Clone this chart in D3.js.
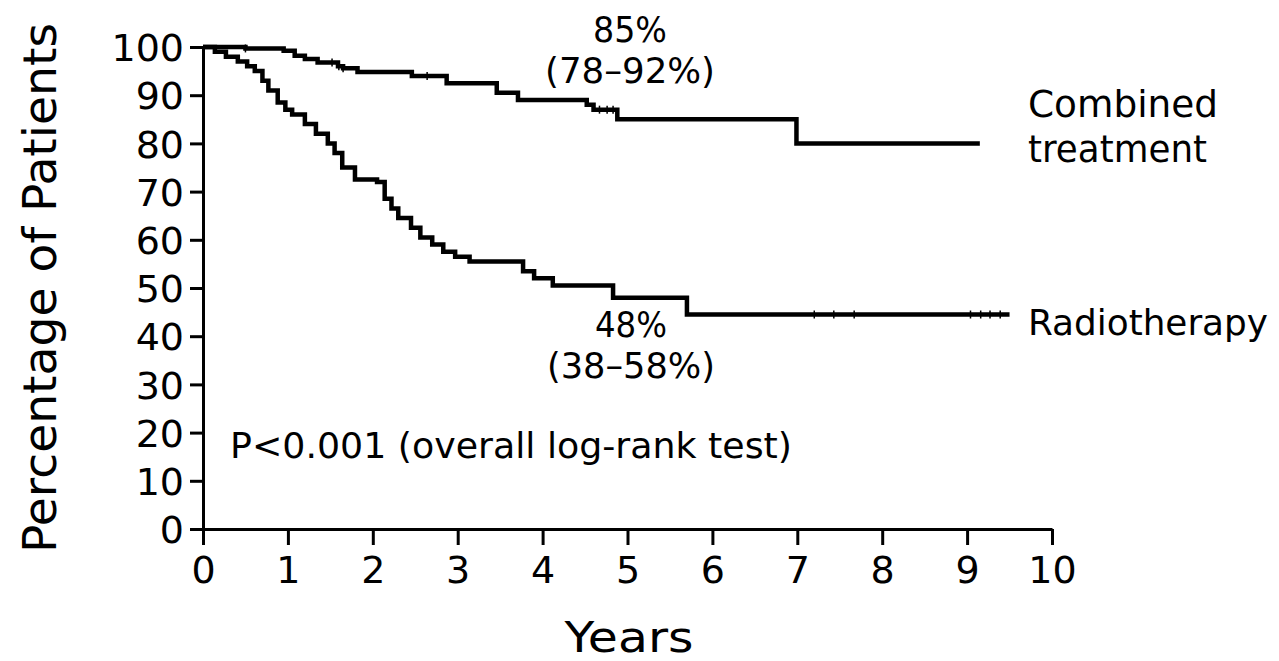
<!DOCTYPE html>
<html>
<head>
<meta charset="utf-8">
<script src="https://cdn.jsdelivr.net/npm/d3@7"></script>
<style>
  html, body { margin: 0; padding: 0; background: #fff; }
  svg { display: block; }
</style>
</head>
<body>
<div id="chart"></div>
<script>
// Kaplan-Meier step values (years, % of patients)
const combinedYears = [0, 0.5, 0.95, 1.08, 1.2, 1.35, 1.59, 1.65, 1.82, 2.46, 2.87, 3.46, 3.71, 4.52, 4.6, 4.88, 6.99];
const combinedPct   = [100, 99.7, 99.2, 98.2, 97.5, 96.8, 96, 95.6, 94.8, 94, 92.5, 90.5, 89, 88, 87, 85, 80];
const combinedEnd = 9.15;
const combinedCensor = [0.5, 1.52, 1.6, 1.65, 2.64, 4.67, 4.76, 4.83];

const radioYears = [0, 0.14, 0.27, 0.41, 0.52, 0.61, 0.7, 0.77, 0.88, 0.97, 1.05, 1.2, 1.33, 1.47, 1.55, 1.64, 1.79, 2.05, 2.14, 2.22, 2.3, 2.45, 2.56, 2.7, 2.83, 2.97, 3.14, 3.77, 3.9, 4.12, 4.83, 5.7];
const radioPct   = [100, 99, 98, 97, 96, 95, 93, 91, 88.5, 87, 86, 84, 82, 80, 78, 75, 72.5, 72, 68.5, 66.5, 64.5, 62.5, 60.5, 59, 57.5, 56.5, 55.5, 53.5, 52, 50.5, 48, 44.5];
const radioEnd = 9.5;
const radioCensor = [7.2, 7.43, 7.67, 9.04, 9.16, 9.27, 9.39];

const yTicks = [0, 10, 20, 30, 40, 50, 60, 70, 80, 90, 100];
const xTicks = [0, 1, 2, 3, 4, 5, 6, 7, 8, 9, 10];

const width = 1279, height = 661;
const font = 'DejaVu Sans, sans-serif';

const x = d3.scaleLinear().domain([0, 10]).range([203, 1052]);
const y = d3.scaleLinear().domain([0, 100]).range([529, 47]);

const svg = d3.select('#chart').append('svg')
  .attr('width', width)
  .attr('height', height)
  .style('font-family', font);

svg.append('rect').attr('width', width).attr('height', height).attr('fill', '#fff');

// axes
const yAxis = svg.append('g')
  .attr('transform', `translate(${x(0)},0)`)
  .call(d3.axisLeft(y).tickValues(yTicks).tickSize(13).tickSizeOuter(0).tickPadding(6));

const xAxis = svg.append('g')
  .attr('transform', `translate(0,${y(0)})`)
  .call(d3.axisBottom(x).tickValues(xTicks).tickSize(16).tickSizeOuter(0));

[yAxis, xAxis].forEach(ax => {
  ax.select('.domain').attr('stroke', '#000').attr('stroke-width', 3);
  ax.selectAll('.tick line').attr('stroke', '#000').attr('stroke-width', 3);
  ax.selectAll('.tick text').attr('fill', '#000').attr('font-size', 38).attr('font-family', font);
});
yAxis.selectAll('.tick text').attr('dy', '0.36em');
xAxis.selectAll('.tick text').attr('y', 54).attr('dy', null);

// survival curves
function stepData(years, pct, end) {
  const pts = years.map((t, i) => [t, pct[i]]);
  pts.push([end, pct[pct.length - 1]]);
  return pts;
}

const line = d3.line()
  .x(d => x(d[0]))
  .y(d => y(d[1]))
  .curve(d3.curveStepAfter);

const series = [
  { years: combinedYears, pct: combinedPct, end: combinedEnd, censor: combinedCensor },
  { years: radioYears, pct: radioPct, end: radioEnd, censor: radioCensor }
];

series.forEach(s => {
  svg.append('path')
    .datum(stepData(s.years, s.pct, s.end))
    .attr('d', line)
    .attr('fill', 'none')
    .attr('stroke', '#000')
    .attr('stroke-width', 4.5)
    .attr('stroke-linejoin', 'miter');

  // small censoring ticks
  const bis = d3.bisector(d => d).right;
  svg.append('g').selectAll('line')
    .data(s.censor)
    .join('line')
    .attr('x1', d => x(d))
    .attr('x2', d => x(d))
    .attr('y1', d => y(s.pct[bis(s.years, d) - 1]) - 4)
    .attr('y2', d => y(s.pct[bis(s.years, d) - 1]) + 4)
    .attr('stroke', '#000')
    .attr('stroke-width', 1.5);
});

// text annotations
function label(txt, px, py, size, anchor, len) {
  const t = svg.append('text')
    .attr('x', px)
    .attr('y', py)
    .attr('font-size', size)
    .attr('text-anchor', anchor)
    .attr('fill', '#000')
    .text(txt);
  if (len) t.attr('textLength', len).attr('lengthAdjust', 'spacingAndGlyphs');
  return t;
}

label('85%', 630, 42, 36, 'middle', 74);
label('(78–92%)', 630, 83, 36, 'middle', 170);
label('48%', 631, 337, 36, 'middle', 72);
label('(38–58%)', 631, 378, 36, 'middle', 168);
label('Combined', 1028, 117, 38, 'start', 190);
label('treatment', 1028, 162, 38, 'start', 179);
label('Radiotherapy', 1028, 335, 36, 'start', 240);
label('P<0.001 (overall log-rank test)', 230, 458, 36, 'start', 562);
label('Years', 629, 652, 43, 'middle', 129);

svg.append('text')
  .attr('transform', 'translate(56,288) rotate(-90)')
  .attr('font-size', 47)
  .attr('text-anchor', 'middle')
  .attr('fill', '#000')
  .attr('textLength', 530)
  .attr('lengthAdjust', 'spacingAndGlyphs')
  .text('Percentage of Patients');
</script>
</body>
</html>
